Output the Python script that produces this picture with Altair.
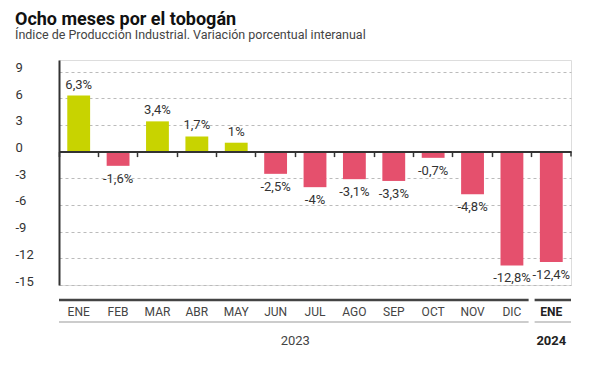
import altair as alt
import pandas as pd

months = ["ENE", "FEB", "MAR", "ABR", "MAY", "JUN", "JUL", "AGO", "SEP", "OCT", "NOV", "DIC", "ENE"]
years = [2023] * 12 + [2024]
values = [6.3, -1.6, 3.4, 1.7, 1.0, -2.5, -4.0, -3.1, -3.3, -0.7, -4.8, -12.8, -12.4]
y_ticks = [-15, -12, -9, -6, -3, 0, 3, 6, 9]

df = pd.DataFrame({"month": months, "year": years, "value": values})
df["key"] = df["month"] + " " + df["year"].astype(str)
df["label"] = [f"{v:g}".replace(".", ",") + "%" for v in values]
df["sign"] = ["pos" if v >= 0 else "neg" for v in values]

seg = pd.DataFrame({
    "year": ["2023", "2024"],
    "k1": ["ENE 2023", "ENE 2024"],
    "k2": ["DIC 2023", "ENE 2024"],
    "mid": ["JUN 2023", "ENE 2024"],
})

W, H = 512, 225
YMIN, YMAX = -15, 10.3
y0 = H * YMAX / (YMAX - YMIN)
FONT = "Roboto"
TXT = "#333333"

xscale = alt.Scale(paddingInner=0, paddingOuter=0, domain=list(df["key"]))

x_main = alt.X(
    "key:N", sort=None, scale=xscale, title=None,
    axis=alt.Axis(orient="bottom", offset=-(H - y0), labels=False, domainColor="#333333",
                  domainWidth=2, tickColor="#333333", tickSize=5, tickWidth=1.5,
                  bandPosition=0, grid=False, zindex=1),
)
y_main = alt.Y(
    "value:Q", title=None,
    scale=alt.Scale(domain=[YMIN, YMAX], nice=False, zero=False),
    axis=alt.Axis(values=y_ticks, tickCount=len(y_ticks), ticks=False,
                  domainColor="#333333", domainWidth=2,
                  labelAlign="left", labelPadding=44, labelBaseline="alphabetic",
                  labelFontSize=13, labelColor=TXT, labelFont=FONT, labelOverlap=False,
                  labelExpr="(datum.value >= 0 ? '\u2002' : '') + datum.value",
                  grid=True, gridDash=[3, 3], gridColor="#bbbbbb", gridWidth=1),
)

base = alt.Chart(df)

bars = base.mark_bar(width={"band": 0.58}).encode(
    x=x_main, y=y_main,
    color=alt.Color("sign:N", scale=alt.Scale(domain=["pos", "neg"], range=["#c8d300", "#e5506d"]), legend=None),
)

lbl_pos = base.transform_filter("datum.value >= 0").mark_text(
    baseline="alphabetic", dy=-7, fontSize=13, color=TXT, font=FONT
).encode(x=alt.X("key:N", sort=None), y="value:Q", text="label:N")

lbl_neg = base.transform_filter("datum.value < 0").mark_text(
    baseline="top", dy=7, fontSize=13, color=TXT, font=FONT
).encode(x=alt.X("key:N", sort=None), y="value:Q", text="label:N")

end_tick = base.transform_filter("datum.key == 'ENE 2024'").mark_rule(
    color="#333333", strokeWidth=1.5, y2Offset=5
).encode(x=alt.X("key:N", sort=None, bandPosition=1), y=alt.datum(0), y2=alt.datum(0))

mon_norm = base.transform_filter("datum.year == 2023").mark_text(
    baseline="middle", fontSize=12, color="#444444", font=FONT
).encode(x=alt.X("key:N", sort=None), y=alt.value(252), text="month:N")

mon_bold = base.transform_filter("datum.year == 2024").mark_text(
    baseline="middle", fontSize=12, color="#222222", font=FONT, fontWeight="bold"
).encode(x=alt.X("key:N", sort=None), y=alt.value(252), text="month:N")

segc = alt.Chart(seg)
thick_a = segc.transform_filter("datum.year == '2023'").mark_rule(color="#444444", strokeWidth=2.5, x2Offset=-3).encode(
    x=alt.X("k1:N", bandPosition=0), x2=alt.X2("k2:N", bandPosition=1), y=alt.value(240))
thick_b = segc.transform_filter("datum.year == '2024'").mark_rule(color="#444444", strokeWidth=2.5, xOffset=3).encode(
    x=alt.X("k1:N", bandPosition=0), x2=alt.X2("k2:N", bandPosition=1), y=alt.value(240))
thin_a = segc.transform_filter("datum.year == '2023'").mark_rule(color="#999999", strokeWidth=1, x2Offset=-3).encode(
    x=alt.X("k1:N", bandPosition=0), x2=alt.X2("k2:N", bandPosition=1), y=alt.value(262))
thin_b = segc.transform_filter("datum.year == '2024'").mark_rule(color="#999999", strokeWidth=1, xOffset=3).encode(
    x=alt.X("k1:N", bandPosition=0), x2=alt.X2("k2:N", bandPosition=1), y=alt.value(262))

year_a = segc.transform_filter("datum.year == '2023'").mark_text(
    baseline="middle", fontSize=13, color="#444444", font=FONT
).encode(x=alt.X("mid:N", bandPosition=1), y=alt.value(281), text="year:N")
year_b = segc.transform_filter("datum.year == '2024'").mark_text(
    baseline="middle", fontSize=13, color="#222222", font=FONT, fontWeight="bold"
).encode(x=alt.X("mid:N", bandPosition=0.5), y=alt.value(281), text="year:N")

chart = alt.layer(
    bars, lbl_pos, lbl_neg, end_tick, mon_norm, mon_bold,
    thick_a, thick_b, thin_a, thin_b, year_a, year_b
).properties(
    width=W, height=H,
    autosize=alt.AutoSizeParams(type="none"),
    padding={"left": 51, "top": 52, "right": 21, "bottom": 70},
    title=alt.TitleParams(
        text="Ocho meses por el tobogán",
        subtitle="Índice de Producción Industrial. Variación porcentual interanual",
        anchor="start", frame="group", dx=-44,
        font=FONT, fontSize=18, fontWeight="bold", color="#111111",
        subtitleFont=FONT, subtitleFontSize=12.5, subtitleColor="#444444",
        subtitlePadding=0, offset=19,
    ),
).configure_view(stroke=None).configure(background="white")

chart.save("out.html", embed_options={"renderer": "svg", "actions": False})
